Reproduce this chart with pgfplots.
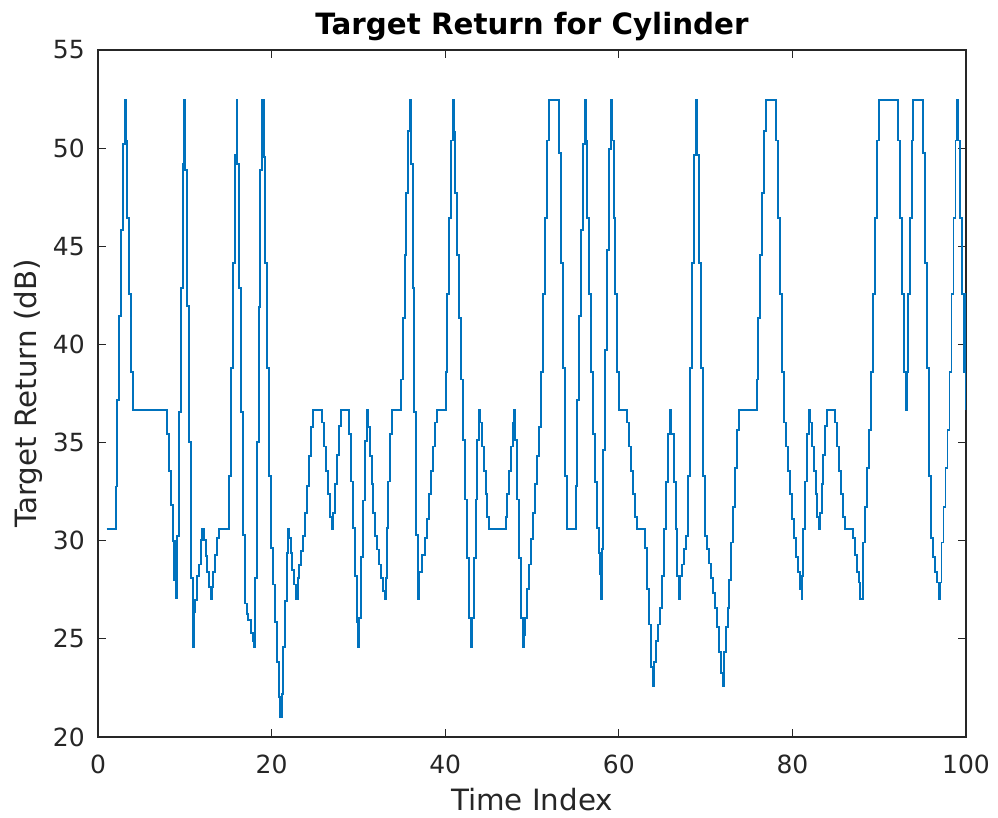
\documentclass[border=0pt]{standalone}
\usepackage{pgfplots}
\pgfplotsset{compat=1.18}
\usepackage{fontspec}
\setmainfont{DejaVu Sans}
\definecolor{matblue}{RGB}{0,114,189}
\definecolor{axgray}{RGB}{38,38,38}
\begin{document}
\begin{tikzpicture}
\begin{axis}[
  at={(0pt,0pt)}, anchor=south west,
  scale only axis,
  width=651pt, height=515.25pt,
  xmin=0, xmax=100, ymin=20, ymax=55,
  xtick={0,20,40,60,80,100},
  ytick={20,25,30,35,40,45,50,55},
  tick align=inside,
  major tick length=6pt,
  axis line style={axgray, line width=0.8pt},
  every tick/.style={axgray, line width=0.8pt},
  /pgf/number format/assume math mode=true,
  tick label style={font=\fontsize{18.75}{20}\selectfont, text=axgray, inner sep=0pt},
  xticklabel style={anchor=north, yshift=-13.5pt},
  yticklabel style={anchor=east, xshift=-9.75pt},
  title={Target Return for Cylinder},
  title style={at={(axis description cs:0.5,1.0102)}, anchor=base, font=\fontsize{22}{24}\selectfont\bfseries, text=black, inner sep=0pt},
  xlabel={Time Index},
  xlabel style={at={(axis description cs:0.5,-0.1073)}, anchor=base, font=\fontsize{22}{24}\selectfont, text=axgray, inner sep=0pt},
  ylabel={Target Return (dB)},
  ylabel style={at={(axis description cs:-0.07066,0.5)}, anchor=base, rotate=0, font=\fontsize{22}{24}\selectfont, text=axgray, inner sep=0pt},
]
\addplot[const plot, color=matblue, line width=1.4pt] table {
x y
1.00 30.60
2.04 32.76
2.23 37.16
2.42 41.45
2.65 45.84
2.88 50.21
3.07 52.47
3.19 50.39
3.38 46.46
3.57 42.56
3.80 38.59
4.03 36.64
7.99 35.42
8.22 33.56
8.45 31.84
8.64 29.97
8.79 28.02
8.91 29.97
9.02 27.06
9.14 30.23
9.33 36.56
9.56 42.88
9.76 49.21
9.95 52.47
10.06 48.89
10.25 41.96
10.48 35.01
10.71 28.09
10.94 24.59
11.06 26.37
11.17 26.97
11.37 28.19
11.60 28.79
11.83 30.02
12.02 30.60
12.21 30.02
12.41 29.22
12.60 28.41
12.80 27.66
12.97 27.02
13.12 27.66
13.29 28.41
13.48 29.27
13.71 30.12
13.90 30.60
15.09 33.30
15.28 38.79
15.51 44.17
15.74 49.64
15.97 52.47
16.05 49.21
16.21 42.88
16.44 36.56
16.67 30.27
16.90 26.80
17.13 26.27
17.32 25.94
17.59 25.30
17.82 24.87
18.01 24.59
18.09 28.09
18.28 35.01
18.51 41.92
18.70 48.89
18.93 52.47
19.09 49.53
19.28 44.17
19.51 38.79
19.74 33.30
19.97 29.63
20.16 27.77
20.39 25.88
20.62 23.84
20.85 22.02
21.01 21.01
21.16 22.19
21.31 24.59
21.54 26.91
21.73 29.37
21.93 30.60
22.04 30.12
22.24 29.37
22.39 28.52
22.62 27.77
22.85 27.02
23.00 28.09
23.20 28.77
23.43 29.48
23.62 30.23
23.85 31.41
24.08 32.80
24.27 34.31
24.54 35.81
24.77 36.64
25.84 36.02
26.07 34.80
26.30 33.56
26.54 32.38
26.77 31.20
27.00 30.60
27.11 31.41
27.34 32.91
27.57 34.37
27.77 35.85
27.99 36.64
28.88 35.42
29.11 33.02
29.34 30.66
29.57 28.19
29.80 25.84
29.99 24.59
30.11 26.05
30.30 29.16
30.53 32.05
30.72 35.06
30.95 36.64
31.07 35.81
31.33 34.31
31.53 32.87
31.72 31.41
31.91 30.23
32.14 29.55
32.37 28.79
32.60 28.09
32.80 27.44
33.06 27.02
33.18 28.09
33.26 30.66
33.45 33.02
33.68 35.42
33.91 36.64
34.91 38.21
35.10 41.34
35.33 44.55
35.52 47.71
35.75 50.86
35.95 52.47
36.02 49.21
36.25 42.88
36.44 36.56
36.67 30.27
36.91 27.02
37.02 28.41
37.30 29.27
37.67 30.12
37.86 31.09
38.09 32.38
38.32 33.56
38.55 34.80
38.78 36.02
39.01 36.64
40.05 38.59
40.24 42.56
40.48 46.46
40.66 50.39
40.90 52.47
41.01 50.81
41.13 47.71
41.36 44.55
41.59 41.34
41.82 38.21
42.05 35.12
42.28 32.10
42.51 29.12
42.74 26.05
42.97 24.59
43.08 26.05
43.28 29.12
43.51 32.10
43.70 35.12
43.89 36.64
44.00 36.02
44.20 34.80
44.43 33.56
44.66 32.38
44.85 31.20
45.04 30.60
46.96 31.20
47.16 32.38
47.39 33.56
47.58 34.80
47.77 36.02
47.96 36.64
48.08 35.12
48.27 32.10
48.50 29.12
48.73 26.05
48.92 24.59
49.04 25.19
49.19 26.05
49.38 27.55
49.61 28.79
49.84 30.08
50.08 31.41
50.31 32.87
50.54 34.31
50.77 35.81
51.00 38.59
51.23 42.56
51.46 46.46
51.69 50.39
51.92 52.47
53.15 49.74
53.38 44.17
53.61 38.79
53.84 33.30
54.07 30.60
55.03 32.80
55.22 37.16
55.42 41.45
55.65 45.84
55.88 50.21
56.11 52.47
56.18 50.39
56.38 46.46
56.61 42.56
56.84 38.59
57.07 35.42
57.30 32.98
57.53 30.66
57.72 29.37
57.83 28.30
57.95 27.02
58.03 29.59
58.22 34.63
58.41 39.73
58.64 44.81
58.87 49.96
59.10 52.47
59.21 50.39
59.41 46.46
59.60 42.56
59.83 38.59
60.06 36.64
60.98 36.02
61.21 34.80
61.44 33.56
61.64 32.38
61.86 31.20
62.09 30.60
63.02 29.63
63.27 27.55
63.50 25.73
63.71 23.58
63.94 22.62
64.09 23.80
64.32 24.87
64.51 25.73
64.71 26.59
64.94 28.19
65.17 30.60
65.40 32.98
65.63 35.42
65.86 36.64
66.05 35.42
66.32 32.98
66.55 30.60
66.74 28.19
66.90 27.02
67.01 28.19
67.24 28.79
67.47 29.59
67.70 30.23
67.93 33.30
68.17 38.79
68.40 44.17
68.62 49.64
68.85 52.47
69.01 49.64
69.24 44.17
69.47 38.79
69.70 33.30
69.93 30.23
70.16 29.59
70.39 28.84
70.62 28.09
70.85 27.34
71.08 26.59
71.27 25.62
71.50 24.34
71.77 23.26
71.97 22.62
72.12 24.34
72.31 25.62
72.54 26.59
72.73 27.98
72.96 29.91
73.16 31.73
73.39 33.70
73.62 35.63
73.85 36.64
75.90 38.21
76.08 41.34
76.31 44.55
76.54 47.71
76.77 50.86
77.00 52.47
78.07 50.39
78.30 46.46
78.53 42.56
78.76 38.59
78.99 36.02
79.22 34.80
79.45 33.56
79.68 32.38
79.91 31.09
80.14 30.12
80.38 29.16
80.61 28.41
80.84 27.55
81.06 27.02
81.14 28.19
81.25 30.60
81.45 33.02
81.68 35.42
81.87 36.64
82.02 36.02
82.22 34.80
82.45 33.56
82.68 32.38
82.87 31.20
83.06 30.60
83.18 31.41
83.37 32.87
83.56 34.35
83.79 35.85
83.99 36.64
84.91 36.02
85.14 34.80
85.37 33.56
85.60 32.38
85.83 31.20
86.06 30.60
87.02 30.12
87.21 29.27
87.44 28.41
87.67 27.87
87.83 27.02
88.09 29.91
88.33 31.73
88.56 33.70
88.79 35.63
89.02 38.59
89.25 42.56
89.48 46.46
89.71 50.39
89.94 52.47
92.17 50.39
92.40 46.46
92.63 42.56
92.86 38.59
93.05 36.64
93.16 38.59
93.36 42.56
93.55 46.46
93.74 50.39
93.93 52.47
95.08 49.74
95.31 44.17
95.54 38.79
95.77 33.30
96.00 30.12
96.23 29.16
96.46 28.41
96.69 27.87
96.84 27.02
96.99 27.87
97.18 29.91
97.41 31.73
97.64 33.70
97.87 35.63
98.10 38.59
98.33 42.56
98.56 46.46
98.79 50.39
98.99 52.47
99.10 50.39
99.29 46.46
99.52 42.56
99.75 38.59
99.87 42.56
100.00 36.64
};
\end{axis}
\path (-73.5pt,-60pt) rectangle (675pt,552.75pt);
\end{tikzpicture}
\end{document}
